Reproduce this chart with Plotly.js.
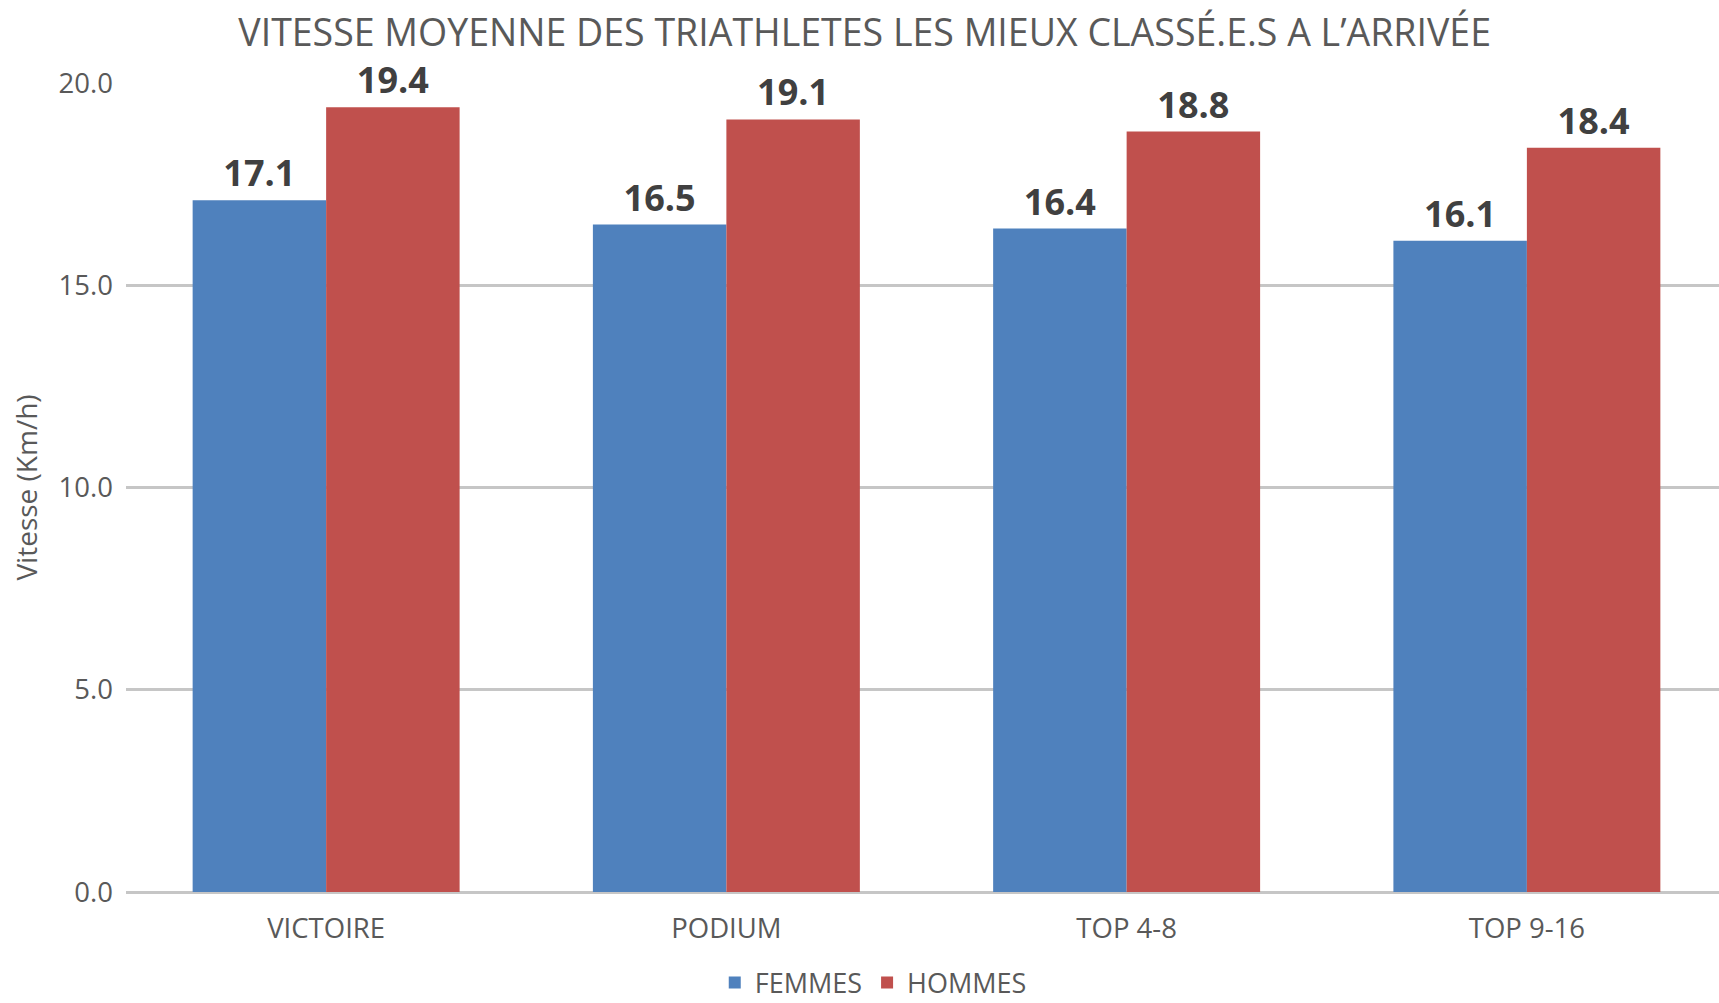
<!DOCTYPE html>
<html>
<head>
<meta charset="utf-8">
<script src="https://cdn.plot.ly/plotly-3.0.1.min.js"></script>
<style>
  html, body { margin: 0; padding: 0; background: #ffffff; overflow: hidden; }
  #chart { width: 1719px; height: 1003px; }
</style>
</head>
<body>
<div id="chart"></div>
<script>
const categories = ['VICTOIRE', 'PODIUM', 'TOP 4-8', 'TOP 9-16'];
const seriesNames = ['FEMMES', 'HOMMES'];
const femmes = [17.1, 16.5, 16.4, 16.1];
const hommes = [19.4, 19.1, 18.8, 18.4];
const yTicks = [0, 5, 10, 15, 20];

const FONT = '"Open Sans", "Noto Sans", sans-serif';
const labelFont = { family: FONT, size: 36, color: '#404040', weight: 'bold' };

const traces = [
  {
    type: 'bar', name: seriesNames[0], x: categories, y: femmes,
    marker: { color: '#4F81BD' },
    text: femmes, texttemplate: '<b>%{y:.1f}</b>', textposition: 'outside',
    textfont: labelFont, cliponaxis: false, hoverinfo: 'x+y'
  },
  {
    type: 'bar', name: seriesNames[1], x: categories, y: hommes,
    marker: { color: '#C0504D' },
    text: hommes, texttemplate: '<b>%{y:.1f}</b>', textposition: 'outside',
    textfont: labelFont, cliponaxis: false, hoverinfo: 'x+y'
  }
];

const layout = {
  width: 1719, height: 1003,
  paper_bgcolor: '#ffffff', plot_bgcolor: '#ffffff',
  font: { family: FONT, size: 27, color: '#595959' },
  margin: { l: 126, r: 0, t: 83, b: 111, pad: 0 },
  title: {
    text: 'VITESSE MOYENNE DES TRIATHLETES LES MIEUX CLASSÉ.E.S A L’ARRIVÉE',
    font: { family: FONT, size: 37.5, color: '#595959' },
    x: 0.503, xref: 'container', xanchor: 'center',
    y: 0.967, yref: 'container', yanchor: 'middle'
  },
  barmode: 'group', bargap: 0.333, bargroupgap: 0,
  xaxis: {
    type: 'category', range: [-0.5, 3.48],
    showgrid: false, showline: false, zeroline: false,
    ticks: '', ticklabelstandoff: 17,
    tickfont: { family: FONT, size: 27.5, color: '#595959' }
  },
  yaxis: {
    range: [0, 20], tickvals: yTicks, tickformat: '.1f',
    showgrid: true, gridcolor: '#c6c6c6', gridwidth: 3,
    zeroline: true, zerolinecolor: '#c6c6c6', zerolinewidth: 3,
    showline: false, ticks: '', ticklabelstandoff: 12,
    tickfont: { family: FONT, size: 27.5, color: '#595959' },
    title: { text: 'Vitesse (Km/h)', font: { family: FONT, size: 28, color: '#595959' }, standoff: 12 }
  },
  showlegend: true,
  legend: {
    orientation: 'h', x: 0.508, xref: 'container', xanchor: 'center',
    y: 0.02, yref: 'container', yanchor: 'middle',
    font: { family: FONT, size: 27, color: '#595959' },
    itemwidth: 30, tracegroupgap: 0, bgcolor: 'rgba(0,0,0,0)'
  }
};

Plotly.newPlot('chart', traces, layout, { displayModeBar: false, responsive: false });
</script>
</body>
</html>
